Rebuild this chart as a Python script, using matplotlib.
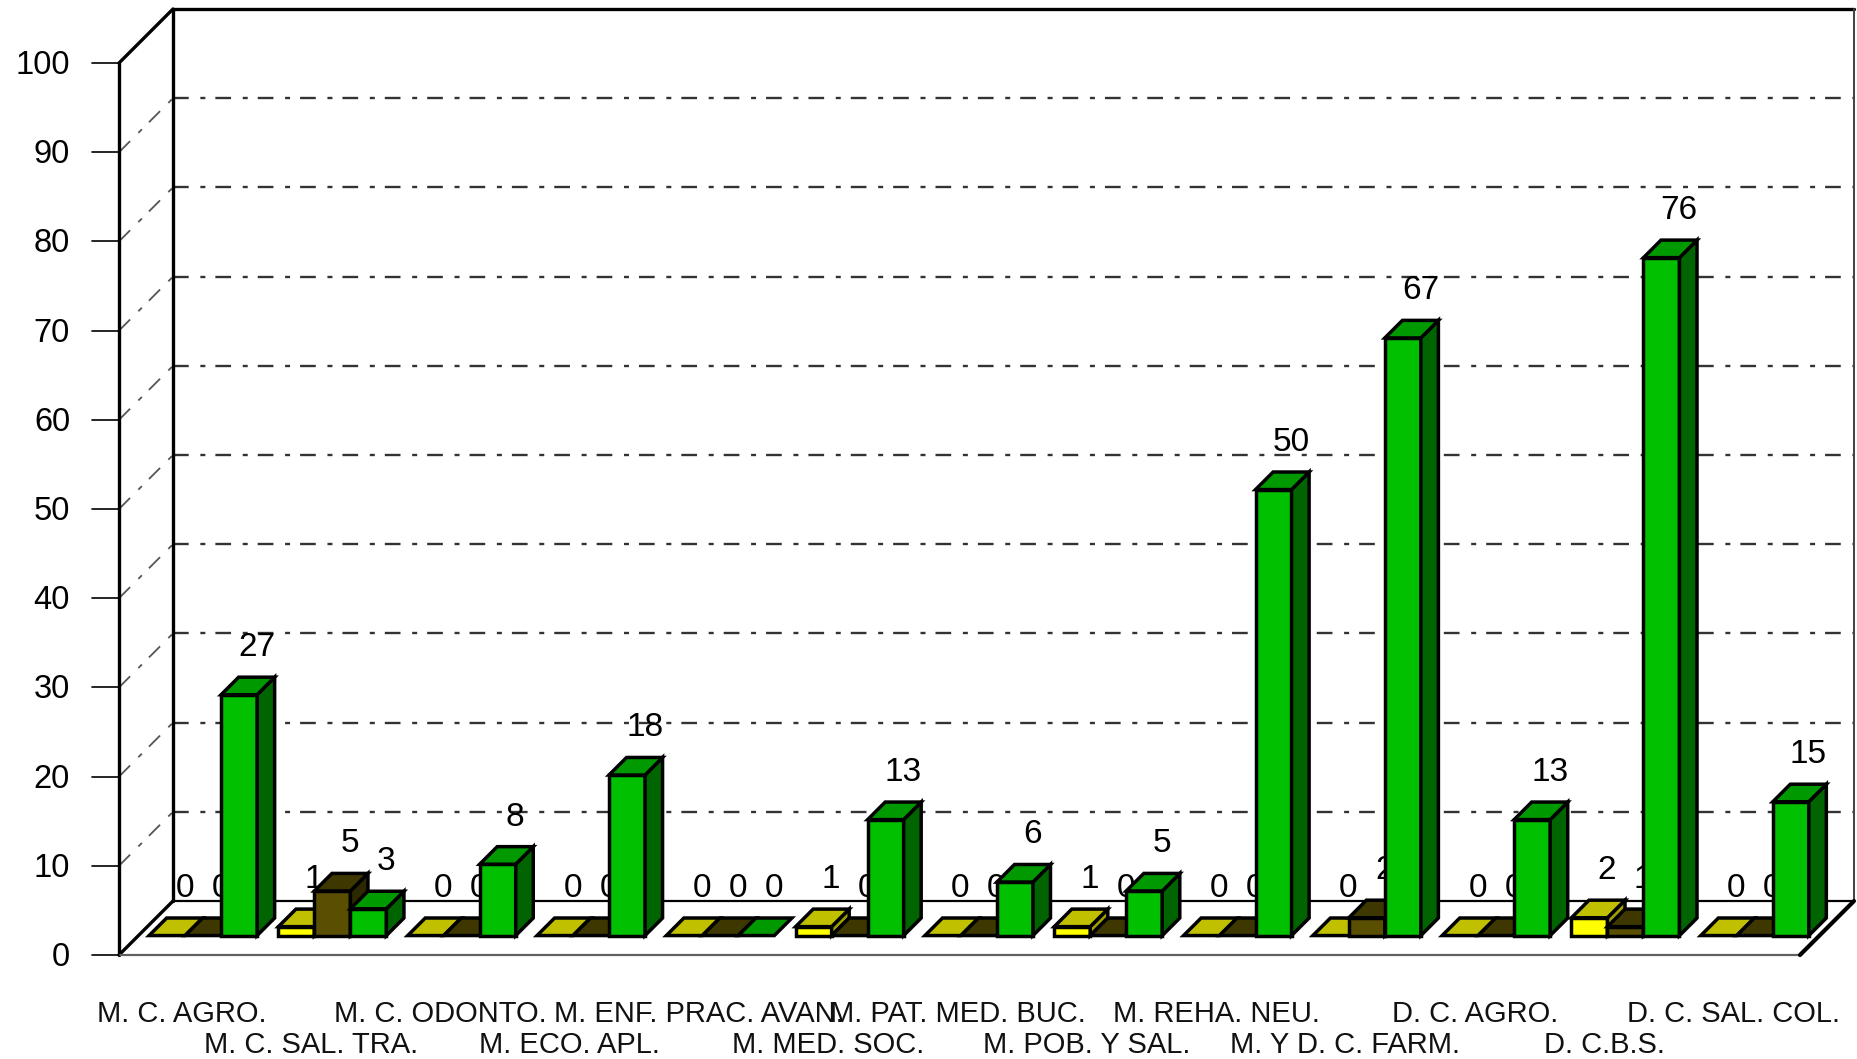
import matplotlib
matplotlib.use("Agg")
import matplotlib.pyplot as plt
from matplotlib.patches import Polygon

plt.rcParams['font.family'] = ['Liberation Sans', 'DejaVu Sans']
plt.rcParams['lines.scale_dashes'] = False

# ---------------- data ----------------
categories = ["M. C. AGRO.", "M. C. SAL. TRA.", "M. C. ODONTO.", "M. ECO. APL.",
              "M. ENF. PRAC. AVAN.", "M. MED. SOC.", "M. PAT. MED. BUC.",
              "M. POB. Y SAL.", "M. REHA. NEU.", "M. Y D. C. FARM.",
              "D. C. AGRO.", "D. C.B.S.", "D. C. SAL. COL."]
series_yellow = [0, 1, 0, 0, 0, 1, 0, 1, 0, 0, 0, 2, 0]
series_olive = [0, 5, 0, 0, 0, 0, 0, 0, 0, 2, 0, 1, 0]
series_green = [27, 3, 8, 18, 0, 13, 6, 5, 50, 67, 13, 76, 15]
y_ticks = [0, 10, 20, 30, 40, 50, 60, 70, 80, 90, 100]

# ---------------- style ----------------
series_list = [series_yellow, series_olive, series_green]
face_cols = [("#FFFF00", "#C0C000", "#A0A000"),
             ("#5A4F00", "#3E3800", "#2C2800"),
             ("#00C000", "#009900", "#006400")]

W, H = 1857, 1059
fig = plt.figure(figsize=(W / 100, H / 100), dpi=100)
px_left, px_right, px_y0, px_y100 = 119, 1800, 955, 63
ax = fig.add_axes([px_left / W, (H - px_y0) / H, (px_right - px_left) / W, (px_y0 - px_y100) / H])
n = len(categories)
ax.set_xlim(0, n)
ax.set_ylim(0, 100)
ax.axis('off')

px_per_x = (px_right - px_left) / n
px_per_y = (px_y0 - px_y100) / 100.0
depth_px = 54
ddx = depth_px / px_per_x
ddy = depth_px / px_per_y

bar_w = 36 / px_per_x
gap = (1 - 3 * bar_w) / 2
f0, f1 = 0.36, 0.685

lw_frame = 2.4
dash = (0, (11.3, 8.4, 3.6, 7.2))

def line(xs, ys, **kw):
    kw.setdefault('color', 'black')
    kw.setdefault('solid_capstyle', 'round')
    ax.plot(xs, ys, clip_on=False, **kw)

# gridlines on back wall and left wall
for v in y_ticks[1:-1]:
    line([ddx, n + ddx], [v + ddy, v + ddy], color="#333333", lw=1.7, linestyle=dash, zorder=1)
    line([0, ddx], [v, v + ddy], color="#555555", lw=1.3, linestyle=dash, zorder=1)

# walls / floor
line([ddx, n + ddx], [100 + ddy, 100 + ddy], lw=lw_frame, zorder=2)
line([n + ddx, n + ddx], [ddy, 100 + ddy], color="#404040", lw=1.4, zorder=2)
line([ddx, ddx], [ddy, 100 + ddy], lw=lw_frame, zorder=2)
line([0, ddx], [100, 100 + ddy], lw=lw_frame, zorder=2)
line([0, 0], [0, 100], lw=lw_frame, zorder=2)
line([0, ddx], [0, ddy], lw=lw_frame, zorder=2)
line([ddx, n + ddx], [ddy, ddy], lw=1.6, zorder=2)
line([0, n], [0, 0], color="#606060", lw=1.6, zorder=2)
line([n, n + ddx], [0, ddy], lw=3.0, zorder=2)

# ticks and tick labels
tick_len = 27 / px_per_x
for v in y_ticks:
    line([-tick_len, 0], [v, v], lw=1.2, zorder=2)
    ax.text(-49 / px_per_x, v - 11 / px_per_y, str(v), ha='right', va='baseline',
            fontsize=23.5, color='black', clip_on=False)

# category labels (two alternating rows)
for i, name in enumerate(categories):
    yb = -67 / px_per_y if i % 2 == 0 else -98 / px_per_y
    ax.text(i + 0.5 - 2 / px_per_x, yb, name, ha='center', va='baseline',
            fontsize=21, color='#111111', clip_on=False)

# bars
z = 10
ox0, oy0 = f0 * ddx, f0 * ddy
ox1, oy1 = f1 * ddx, f1 * ddy
for i in range(n):
    for j, ser in enumerate(series_list):
        v = ser[i]
        x0 = i + gap + j * bar_w
        x1 = x0 + bar_w
        fc, tc, sc = face_cols[j]
        kw = dict(edgecolor='black', linewidth=2.5, joinstyle='miter', clip_on=False, zorder=z)
        if v > 0:
            ax.add_patch(Polygon([(x0 + ox0, oy0), (x1 + ox0, oy0), (x1 + ox0, v + oy0), (x0 + ox0, v + oy0)],
                                 closed=True, facecolor=fc, **kw))
            ax.add_patch(Polygon([(x1 + ox0, oy0), (x1 + ox1, oy1), (x1 + ox1, v + oy1), (x1 + ox0, v + oy0)],
                                 closed=True, facecolor=sc, **kw))
        ax.add_patch(Polygon([(x0 + ox0, v + oy0), (x1 + ox0, v + oy0), (x1 + ox1, v + oy1), (x0 + ox1, v + oy1)],
                             closed=True, facecolor=tc, **kw))
        z += 1
        ax.text((x0 + x1) / 2 + ox1, v + oy1 + 21 / px_per_y, str(v), ha='center', va='baseline',
                fontsize=24, color='black', zorder=z, clip_on=False)
        z += 1

fig.savefig("out.png", dpi=100, facecolor='white')
